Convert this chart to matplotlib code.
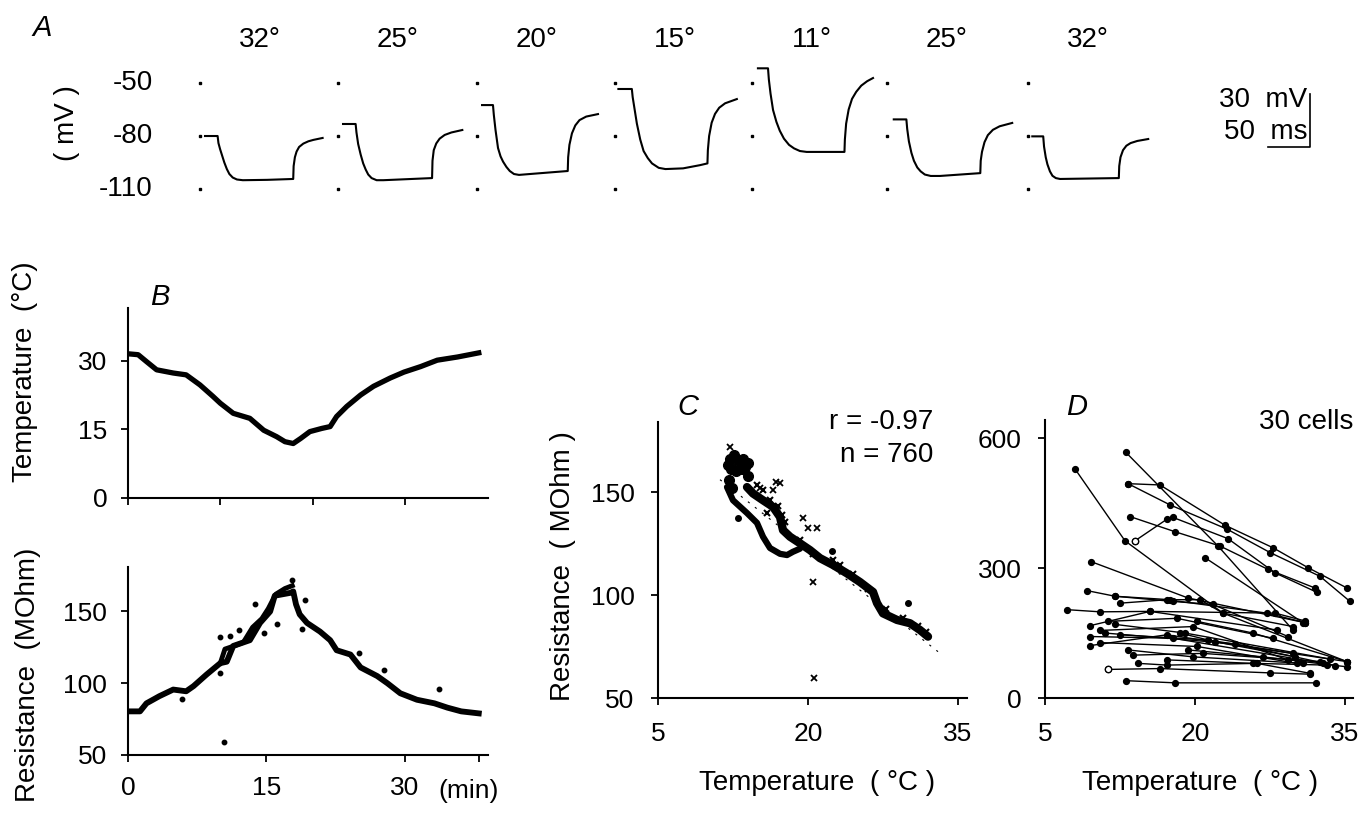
import matplotlib
matplotlib.use('Agg')
import matplotlib.pyplot as plt

plt.rcParams['font.family'] = ['Liberation Sans', 'DejaVu Sans']

# ---------------- data ----------------
# Panel A: voltage responses (time in ms from trace start, membrane potential in mV)
a_labels = ['32°', '25°', '20°', '15°', '11°', '25°', '32°']
tr1_t = [6, 21, 22, 24, 26, 29, 32, 35, 39, 44, 51, 80, 111, 111.5, 113, 115, 118, 123, 129, 135, 146]
tr1_v = [-80, -80, -84, -87.5, -90.5, -95, -98.7, -101.5, -103.5, -104.6, -105, -104.8, -104.3,
         -97, -92, -88.8, -86.2, -84.3, -83, -82.2, -81.1]
tr2_t = [6, 21, 22, 24, 27, 30, 33, 36, 40, 46, 54, 112, 112.5, 114, 117, 121, 127, 135, 148]
tr2_v = [-73.2, -73.2, -78, -84.5, -90.5, -95.5, -99, -101.8, -103.8, -105, -105, -103.8,
         -94, -88, -84.2, -81.5, -79.4, -78, -76.6]
tr3_t = [6, 19, 20, 22, 25, 28, 31, 35, 39, 44, 50, 63, 108, 108.5, 110, 113, 117, 122, 130, 144]
tr3_v = [-62.5, -62.5, -68, -76.5, -86.8, -91.5, -94.5, -97.5, -99.8, -101.5, -102, -101.5,
         -99.8, -92, -85, -78.5, -74, -71, -69, -67.6]
tr4_t = [4, 20, 21, 23, 26, 30, 34, 39, 44, 52, 60, 81, 101, 110, 110.5, 112, 115, 119, 124, 131, 145]
tr4_v = [-53.4, -53.4, -58, -64, -73, -82, -88.5, -92.5, -95.5, -98, -98.7, -98.3, -96.5,
         -95.5, -88, -80, -72.5, -67.5, -64, -61.5, -59.1]
tr5_t = [7, 19, 20, 22, 25, 29, 33, 38, 44, 50, 57, 65, 110, 110.5, 112, 115, 119, 124, 130, 137, 144]
tr5_v = [-41.7, -41.7, -48, -56, -65.3, -72, -77, -81.5, -85, -87, -88.5, -89, -89,
         -82, -73, -65, -59, -55, -51.5, -49, -47.2]
tr6_t = [8, 23, 24, 26, 29, 32, 36, 40, 45, 52, 63, 111, 111.5, 113, 116, 120, 126, 134, 149]
tr6_v = [-70.6, -70.6, -76, -83, -89.5, -94, -97.8, -100, -101.8, -102.6, -102.6, -101,
         -94, -89, -83.5, -79.5, -76.5, -74.5, -72.6]
tr7_t = [5, 18, 19, 21, 23, 26, 29, 33, 38, 108, 108.5, 110, 113, 117, 122, 130, 143]
tr7_v = [-80.2, -80.2, -86, -92, -96, -100, -102.5, -103.8, -104.3, -103.8,
         -97, -92, -88, -85.5, -84, -82.8, -81.7]
a_ref_levels = [-50, -80, -110]

# Panel B: temperature (deg C) and resistance (MOhm) vs time (min)
b_temp_time = [0, 1.1, 2.0, 3.1, 4.9, 6.3, 7.8, 9.2, 10.0, 11.4, 13.2, 14.7, 16.1, 17.0,
               17.9, 18.7, 19.7, 21.0, 21.9, 22.6, 23.7, 25.2, 26.6, 28.4, 29.9, 31.7,
               33.5, 35.7, 38.0]
b_temp = [31.5, 31.3, 29.8, 28.0, 27.3, 26.9, 24.7, 22.2, 20.7, 18.5, 17.4, 14.8, 13.4, 12.3,
          11.9, 13.0, 14.5, 15.2, 15.6, 17.8, 20.0, 22.5, 24.4, 26.2, 27.5, 28.7,
          30.1, 30.8, 31.7]
b_res_time = [0, 1.3, 2.0, 3.4, 4.9, 6.3, 7.1, 8.5, 10.0, 10.7, 11.4, 13.2, 14.3, 15.4,
              15.9, 17.6, 17.9, 18.2, 18.6, 19.4, 20.8, 21.9, 22.6, 24.1, 25.2, 27.0,
              28.1, 29.5, 31.3, 33.2, 34.6, 36.1, 38.0]
b_res = [80.4, 80.4, 86, 91, 95.6, 94.4, 98, 106, 114, 115, 126, 130, 142, 150,
         161, 163, 164, 155, 148, 142, 136, 130, 123, 120, 111, 105,
         100, 93, 88.5, 86, 83, 80.4, 79]
b_res2_time = [10.0, 10.5, 11.5, 12.5, 13.5, 14.5, 15.2, 16.0, 17.0, 17.8]
b_res2 = [114, 123.8, 126, 128.5, 139, 145, 152, 162, 166, 168]
b_out_time = [5.8, 10.0, 10.4, 11.1, 12.0, 10.0, 13.8, 14.7, 16.1, 17.8, 19.2, 18.8,
              25.0, 27.7, 33.7]
b_out_res = [89, 107, 59, 133, 137, 132, 155, 135, 141, 172, 158, 138, 121, 109, 96]

# Panel C: resistance vs temperature for the same cell
c_low_T = [11.9, 12.5, 13.9, 14.9, 15.5, 16.2, 17.2, 17.9, 18.5, 19.2]
c_low_R = [152.4, 146, 139.8, 135, 128.3, 122.8, 120, 119.4, 121, 122.5]
c_up_T = [13.9, 14.5, 15.5, 16.5, 17.2, 17.5, 18.2, 19.2, 20.2, 21.2, 22.5, 23.9, 25.2,
          26.5, 26.9, 27.5, 28.9, 30.2, 31.2, 32.0]
c_up_R = [152.4, 149.3, 146, 142.8, 137.9, 131.5, 128.3, 125.1, 121.8, 117.9, 114.6, 110.5,
          106.3, 101.5, 96.1, 91.1, 87.9, 86.3, 83, 79.8]
c_blob_T = [12.2, 12.6, 13.0, 13.5, 14.0, 12.3, 12.8, 13.4, 14.0, 12.1, 12.4, 13.7, 12.0]
c_blob_R = [166, 168, 165, 166, 164, 161, 160, 161, 158, 156, 152, 162, 163]
c_fuzz_T = [14.9, 15.5, 16.2, 17.0, 17.4, 15.9, 17.7, 19.2, 20.5, 22.5, 23.2, 24.5, 26.0,
            27.8, 29.5, 31.0, 31.8]
c_fuzz_R = [153.4, 151, 146, 143, 139, 139.9, 135.5, 126.6, 120, 117, 114.5, 110, 103,
            93, 89, 85, 82]
c_x_T = [12.2, 16.8, 17.2, 16.5, 19.5, 20.0, 20.9, 20.5, 15.2, 20.6]
c_x_R = [172, 155, 154.2, 151, 137.4, 132.5, 132.5, 106.5, 152, 59.9]
c_dot_T = [13.0, 22.4, 30.0]
c_dot_R = [137.4, 121.5, 96.1]
c_fit_slope = -3.83
c_fit_intercept = 198.9
c_fit_range = [11.2, 33.0]

# Panel D: 30 cells, resistance vs temperature
d_cells_T = [
    [13.1, 22.3, 29.8], [13.3, 16.5, 23.0, 27.8, 31.3, 35.2],
    [13.3, 17.5, 23.2, 27.5, 32.5, 35.5], [13.5, 18.0, 22.5, 27.3, 32.0],
    [14.0, 17.2, 17.8, 23.3, 28.0, 32.2], [21.0, 30.8], [8.0, 13.0, 22.8, 29.8],
    [9.6, 19.3, 31.0], [9.2, 12.0, 17.8, 21.8, 29.3], [7.2, 10.5, 15.5, 28.0, 31.0],
    [12.0, 17.5, 20.5, 22.8, 35.2], [12.5, 17.2, 27.2, 31.0], [9.5, 15.5, 28.2],
    [10.5, 19.8, 29.3], [9.5, 17.8, 32.8], [9.5, 17.2, 35.2], [10.5, 20.2, 30.2],
    [11.3, 18.2, 27.8], [12.5, 21.3, 29.8], [13.3, 19.8, 30.8], [13.8, 20.8, 32.5],
    [14.3, 17.2, 26.2, 31.5], [11.3, 16.5, 27.5, 31.5], [13.1, 18.0, 32.1],
    [19.3, 26.8, 35.2], [17.2, 25.8, 33.2], [20.2, 25.8, 35.2], [18.5, 22.0, 30.0],
    [12.0, 19.0, 33.5], [11.0, 24.0, 34.0]]
d_cells_R = [
    [567, 351, 157], [495, 492, 399, 347, 301, 254],
    [495, 446, 390, 336, 281, 223], [419, 384, 351, 297, 254],
    [363, 413, 417, 368, 289, 244], [324, 174], [529, 363, 196, 165],
    [315, 231, 174], [248, 235, 223, 216, 142], [204, 199, 200, 196, 178],
    [235, 227, 227, 196, 84], [219, 227, 196, 174], [167, 200, 157],
    [156, 165, 88], [142, 138, 80], [121, 146, 84], [128, 119, 80],
    [177, 184, 138], [146, 134, 103], [111, 95, 80], [99, 103, 84],
    [80, 76, 80, 57], [66, 68, 58, 55], [40, 35, 35],
    [111, 95, 72], [88, 80, 76], [177, 150, 84], [150, 130, 95],
    [170, 150, 90], [150, 125, 75]]
d_open_T = [14.0, 11.3]
d_open_R = [363, 66]

# ---------------- layout helpers ----------------
W, H = 1364, 819
fig = plt.figure(figsize=(W / 100, H / 100), dpi=100)
FS = 20


def px_axes(left, top, right, bottom):
    return fig.add_axes([left / W, 1 - bottom / H, (right - left) / W, (bottom - top) / H])


def ftext(x, y, s, **kw):
    fig.text(x / W, 1 - y / H, s, **kw)


def style_axes(ax, pad):
    for side in ('top', 'right'):
        ax.spines[side].set_visible(False)
    for side in ('left', 'bottom'):
        ax.spines[side].set_linewidth(1.5)
    ax.tick_params(direction='out', length=5, width=1.3, labelsize=FS - 1, pad=pad)


# ---------------- Panel A ----------------
axA = px_axes(100, 60, 1350, 200)
axA.set_xlim(0, 1488)
axA.set_ylim(-116.2, -37.0)
axA.axis('off')
trace_offsets = [119, 283.3, 448.8, 613.1, 776.2, 936.9, 1104.8]
traces = [(tr1_t, tr1_v), (tr2_t, tr2_v), (tr3_t, tr3_v), (tr4_t, tr4_v),
          (tr5_t, tr5_v), (tr6_t, tr6_v), (tr7_t, tr7_v)]
for off, (tt, vv), lab in zip(trace_offsets, traces, a_labels):
    axA.plot([off + t for t in tt], vv, color='k', lw=1.5, solid_joinstyle='round')
    axA.plot([off] * len(a_ref_levels), a_ref_levels, ls='none', marker='s',
             ms=1.5, color='k')
    axA.text(off + 71, -25.7, lab, ha='center', va='center', fontsize=FS)
for lev in a_ref_levels:
    axA.text(63, lev, str(lev), ha='right', va='center', fontsize=FS)
# scale bar
axA.plot([1390.5, 1440.5, 1440.5], [-86, -86, -56], color='k', lw=1.2)
axA.text(1437, -59.6, '30  mV', ha='right', va='center', fontsize=FS)
axA.text(1437, -77.7, '50  ms', ha='right', va='center', fontsize=FS)
ftext(67, 123, '( mV )', rotation=90, ha='center', va='center', fontsize=FS)
ftext(42, 28, 'A', style='italic', ha='center', va='center', fontsize=FS + 1)

# ---------------- Panel B ----------------
axBt = px_axes(128, 308, 488, 498)
axBt.plot(b_temp_time, b_temp, color='k', lw=3.8, solid_joinstyle='round')
axBt.set_xlim(0, 39)
axBt.set_ylim(0, 41.5)
axBt.set_xticks([0, 10, 20, 30])
axBt.set_xticklabels([])
axBt.set_yticks([0, 15, 30])
style_axes(axBt, 10)

axBb = px_axes(128, 567, 488, 755)
axBb.plot(b_res_time, b_res, color='k', lw=4.2, solid_joinstyle='round')
axBb.plot(b_res2_time, b_res2, color='k', lw=3.5, solid_joinstyle='round')
axBb.plot(b_out_time, b_out_res, ls='none', marker='o', ms=3.2, color='k')
axBb.set_xlim(0, 39)
axBb.set_ylim(50, 181)
axBb.set_xticks([0, 15, 30, 38])
axBb.set_xticklabels(['0', '15', '30', ''])
axBb.set_yticks([50, 100, 150])
style_axes(axBb, 10)
ftext(469, 791, '(min)', ha='center', va='center', fontsize=FS - 1)
ftext(25, 372, 'Temperature  (°C)', rotation=90, ha='center', va='center', fontsize=FS)
ftext(28, 675, 'Resistance  (MOhm)', rotation=90, ha='center', va='center', fontsize=FS)
ftext(160, 297, 'B', style='italic', ha='center', va='center', fontsize=FS + 1)

# ---------------- Panel C ----------------
axC = px_axes(658, 422, 967, 698)
axC.plot(c_fit_range, [c_fit_slope * t + c_fit_intercept for t in c_fit_range],
         color='k', lw=0.8, ls=(0, (2, 6)))
axC.plot(c_low_T, c_low_R, color='k', lw=4.5, solid_joinstyle='round',
         solid_capstyle='round')
axC.plot(c_up_T, c_up_R, color='k', lw=6, solid_joinstyle='round',
         solid_capstyle='round')
axC.plot(c_blob_T, c_blob_R, ls='none', marker='o', ms=7, color='k')
axC.plot(c_fuzz_T, c_fuzz_R, ls='none', marker='x', ms=5, mew=1.5, color='k')
axC.plot(c_x_T, c_x_R, ls='none', marker='x', ms=4, mew=1.3, color='k')
axC.plot(c_dot_T, c_dot_R, ls='none', marker='o', ms=4, color='k')
axC.set_xlim(5, 35.9)
axC.set_ylim(50, 184)
axC.set_xticks([5, 20, 35])
axC.set_yticks([50, 100, 150])
style_axes(axC, 12)
ftext(933, 422, 'r = -0.97', ha='right', va='center', fontsize=FS)
ftext(933, 455, 'n = 760', ha='right', va='center', fontsize=FS)
ftext(688, 407, 'C', style='italic', ha='center', va='center', fontsize=FS + 1)
ftext(563, 566, 'Resistance  ( MOhm )', rotation=90, ha='center', va='center', fontsize=FS)
ftext(817, 783, 'Temperature  ( °C )', ha='center', va='center', fontsize=FS)

# ---------------- Panel D ----------------
axD = px_axes(1045, 420, 1353, 698)
for tt, rr in zip(d_cells_T, d_cells_R):
    axD.plot(tt, rr, color='k', lw=1.0, marker='o', ms=4.2, mfc='k', mec='k', mew=1.0)
axD.plot(d_open_T, d_open_R, ls='none', marker='o', ms=4.6, mfc='white', mec='k', mew=1.0)
axD.set_xlim(5, 35.8)
axD.set_ylim(0, 642)
axD.set_xticks([5, 20, 35])
axD.set_yticks([0, 300, 600])
style_axes(axD, 12)
ftext(1353, 422, '30 cells', ha='right', va='center', fontsize=FS)
ftext(1077, 407, 'D', style='italic', ha='center', va='center', fontsize=FS + 1)
ftext(1200, 783, 'Temperature  ( °C )', ha='center', va='center', fontsize=FS)

fig.savefig('out.png', dpi=100, facecolor='white')
